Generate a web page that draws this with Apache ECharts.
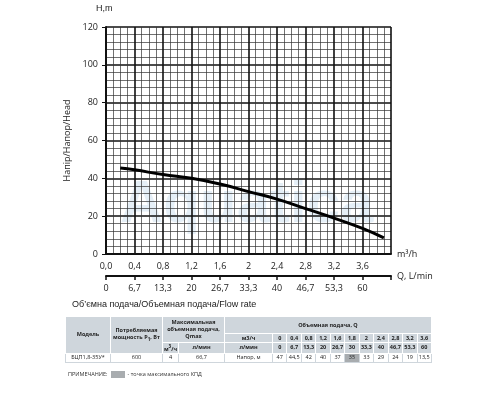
<!DOCTYPE html>
<html><head><meta charset="utf-8">
<script src="https://cdn.jsdelivr.net/npm/echarts@6/dist/echarts.min.js"></script>
<style>
body{margin:0;background:#fff;font-family:"Open Sans",sans-serif}
#c{position:absolute;left:0;top:0;width:500px;height:400px}
table{position:absolute;left:65px;top:316px;width:367px;border-collapse:collapse;font-size:5.5px;color:#222;table-layout:fixed}
td{border:1px solid #fff;text-align:center;padding:0;height:8px;line-height:7px}
.h{background:#cfd6dc;font-weight:bold}
.d{background:#fff;border:1px solid #cfd6dc}
.mx{background:#a8acaf}
#note{position:absolute;left:68px;top:370px;font-size:5.5px;color:#333}
#note span{display:inline-block;width:14px;height:7px;background:#a8acaf;vertical-align:middle;margin:0 3px}
</style></head><body>
<div id="c"></div>
<table id="t"></table>
<div id="note">ПРИМЕЧАНИЕ:<span></span>- точка максимального КПД</div>
<script>
const flowM3 = [0.2,0.4,0.8,1.2,1.6,2.0,2.4,2.8,3.2,3.6,3.9];
const head   = [45.5,44.5,42,40,37,33,29,24,19,13.5,8.5];
const xTicks = ['0,0','0,4','0,8','1,2','1,6','2','2,4','2,8','3,2','3,6'];
const lminTicks = ['0','6,7','13,3','20','26,7','33,3','40','46,7','53,3','60'];
const tblQ = ['0','0,4','0,8','1,2','1,6','1,8','2','2,4','2,8','3,2','3,6'];
const tblL = ['0','6,7','13,3','20','26,7','30','33,3','40','46,7','53,3','60'];
const tblH = ['47','44,5','42','40','37','35','33','29','24','19','13,5'];

const chart = echarts.init(document.getElementById('c'));
const lbl = {color:'#222',fontSize:9,fontFamily:'Open Sans'};
chart.setOption({
  animation:false,
  grid:{left:106,right:109,top:27,bottom:146},
  graphic:[
    {type:'text',left:96,top:4,style:{text:'H,m',fontSize:9,fill:'#222'}},
    {type:'text',left:72,top:300,style:{text:'Об\u2019ємна подача/Объемная подача/Flow rate',fontSize:9,fill:'#222'}},
    {type:'text',left:120,top:175,z:0,style:{text:'Aquatica',fontSize:60,fontWeight:'bold',fill:'rgba(150,190,225,0.25)'}}
  ],
  xAxis:[{
    type:'value',min:0,max:4,interval:0.4,
    axisLine:{lineStyle:{color:'#111',width:2}},
    axisTick:{show:false},
    axisLabel:Object.assign({},lbl,{formatter:(v,i)=>i<xTicks.length?xTicks[i]:''}),
    splitLine:{show:true,lineStyle:{color:'#111',width:1.6}},
    minorTick:{show:false,splitNumber:4},
    minorSplitLine:{show:true,lineStyle:{color:'#333',width:0.7}},
    name:'m³/h',nameGap:6,nameTextStyle:lbl
  },{
    type:'value',min:0,max:4,interval:0.4,position:'bottom',offset:22,
    axisLine:{show:true,lineStyle:{color:'#111',width:2}},
    axisTick:{show:true,length:4,inside:false,lineStyle:{color:'#111',width:1.5}},
    axisLabel:Object.assign({},lbl,{formatter:(v,i)=>i<lminTicks.length?lminTicks[i]:''}),
    splitLine:{show:false},
    name:'Q, L/min',nameGap:6,nameTextStyle:lbl
  }],
  yAxis:{
    type:'value',min:0,max:120,interval:20,
    axisLine:{show:true,lineStyle:{color:'#111',width:2}},
    axisTick:{show:true,length:4,lineStyle:{color:'#111'}},
    axisLabel:lbl,
    splitLine:{show:true,lineStyle:{color:'#111',width:1.6}},
    minorTick:{show:false,splitNumber:5},
    minorSplitLine:{show:true,lineStyle:{color:'#333',width:0.7}},
    name:'Напір/Напор/Head',nameLocation:'middle',nameGap:24,nameTextStyle:lbl
  },
  series:[{type:'line',smooth:true,showSymbol:false,data:flowM3.map((x,i)=>[x,head[i]]),
    lineStyle:{color:'#000',width:3},z:5}]
});

const t=document.getElementById('t');
let h='<colgroup><col style="width:45px"><col style="width:52px"><col style="width:16px"><col style="width:46px"><col style="width:48px">'+tblQ.map(()=>'<col>').join('')+'</colgroup>';
h+='<tr><td class="h" rowspan="3">Модель</td><td class="h" rowspan="3">Потребляемая<br>мощность P<sub>1</sub>, Вт</td><td class="h" colspan="2" rowspan="2">Максимальная<br>объемная подача,<br>Qmax</td><td class="h" colspan="12" style="height:16px">Объемная подача, Q</td></tr>';
h+='<tr><td class="h">м3/ч</td>'+tblQ.map(v=>'<td class="h">'+v+'</td>').join('')+'</tr>';
h+='<tr><td class="h">м<sup>3</sup>/ч</td><td class="h">л/мин</td><td class="h">л/мин</td>'+tblL.map(v=>'<td class="h">'+v+'</td>').join('')+'</tr>';
h+='<tr><td class="d">БЦП1,8-35У*</td><td class="d">600</td><td class="d">4</td><td class="d">66,7</td><td class="d">Напор, м</td>'+tblH.map((v,i)=>'<td class="d'+(i==5?' mx':'')+'">'+v+'</td>').join('')+'</tr>';
t.innerHTML=h;
</script></body></html>
